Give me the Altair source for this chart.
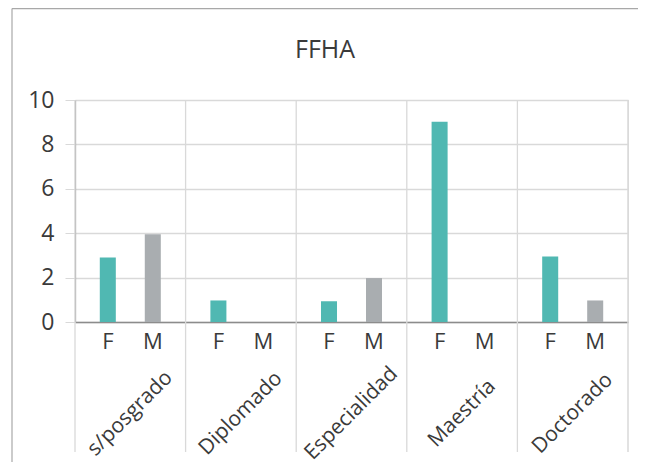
import altair as alt
import pandas as pd

categories = ["s/posgrado", "Diplomado", "Especialidad", "Maestría", "Doctorado"]
sexes = ["F", "M"]
fem = [2.9, 0.97, 0.93, 9.02, 2.95]
masc = [3.95, 0.0, 1.98, 0.0, 0.97]
title_text = "FFHA"

rows = []
for c, f, m in zip(categories, fem, masc):
    rows.append({"cat": c, "sex": "F", "val": f})
    rows.append({"cat": c, "sex": "M", "val": m})
df = pd.DataFrame(rows)

W, H = 553, 222
FONT = "Open Sans"
GRID = "#d9d9d9"
TXT = "#3a3a3a"

xscale = alt.Scale(domain=categories, paddingInner=0, paddingOuter=0)
oscale = alt.Scale(domain=sexes, paddingInner=0.644, paddingOuter=0.551)

bars = alt.Chart(df).mark_bar().encode(
    x=alt.X("cat:N", scale=xscale, sort=categories,
            axis=alt.Axis(title=None, labelAngle=315, labelAlign="center",
                          labelBaseline="middle", labelPadding=91, ticks=False,
                          labelFontSize=21, labelFont=FONT, labelColor=TXT,
                          labelOverlap=False, labelLimit=300,
                          domainColor="#8c8c8c", domainWidth=1.3, grid=False)),
    xOffset=alt.XOffset("sex:N", scale=oscale),
    y=alt.Y("val:Q", scale=alt.Scale(domain=[0, 10], nice=False),
            axis=alt.Axis(title=None, values=[0, 2, 4, 6, 8, 10], tickSize=10,
                          tickColor=GRID, labelPadding=11, labelFontSize=23,
                          labelFont=FONT, labelColor=TXT, gridColor=GRID,
                          gridWidth=1.3, domainColor="#a0a0a0", domainWidth=1.3)),
    color=alt.Color("sex:N", scale=alt.Scale(domain=sexes, range=["#50b8b2", "#a9adb0"]),
                    legend=None),
)

sexlabels = alt.Chart(df).mark_text(fontSize=22, font=FONT, color=TXT,
                                     baseline="middle", align="center").encode(
    x=alt.X("cat:N", scale=xscale, sort=categories),
    xOffset=alt.XOffset("sex:N", scale=oscale),
    y=alt.value(242),
    text="sex:N",
)

seps = alt.Chart(pd.DataFrame({"cat": categories})).mark_rule(
    color=GRID, strokeWidth=1.3).encode(
    x=alt.X("cat:N", scale=xscale, sort=categories, bandPosition=0),
    y=alt.value(0),
    y2=alt.value(352),
)

right = alt.Chart(pd.DataFrame({"cat": ["end"]})).mark_rule(
    color=GRID, strokeWidth=1.5).encode(
    x=alt.value(W), y=alt.value(0), y2=alt.value(352))

frame_top = alt.Chart(pd.DataFrame({"k": [0]})).mark_rule(
    color="#a8a8a8", strokeWidth=1.2).encode(
    x=alt.value(-63), x2=alt.value(640), y=alt.value(-91.4))
frame_left = alt.Chart(pd.DataFrame({"k": [0]})).mark_rule(
    color="#a8a8a8", strokeWidth=1.2).encode(
    x=alt.value(-63), y=alt.value(-91.4), y2=alt.value(500))

title = alt.Chart(pd.DataFrame({"t": [title_text]})).mark_text(
    fontSize=25, font=FONT, color=TXT, align="center", baseline="alphabetic").encode(
    x=alt.value(250), y=alt.value(-42), text="t:N")

chart = alt.layer(frame_top, frame_left, seps, right, bars, sexlabels, title).properties(
    width=W, height=H,
    padding={"left": 67, "top": 92, "right": 10, "bottom": 140},
    autosize=alt.AutoSizeParams(type="none"),
).configure_view(stroke=None).configure(background="white")

chart.save("out.html", embed_options={"renderer": "svg", "actions": False})
